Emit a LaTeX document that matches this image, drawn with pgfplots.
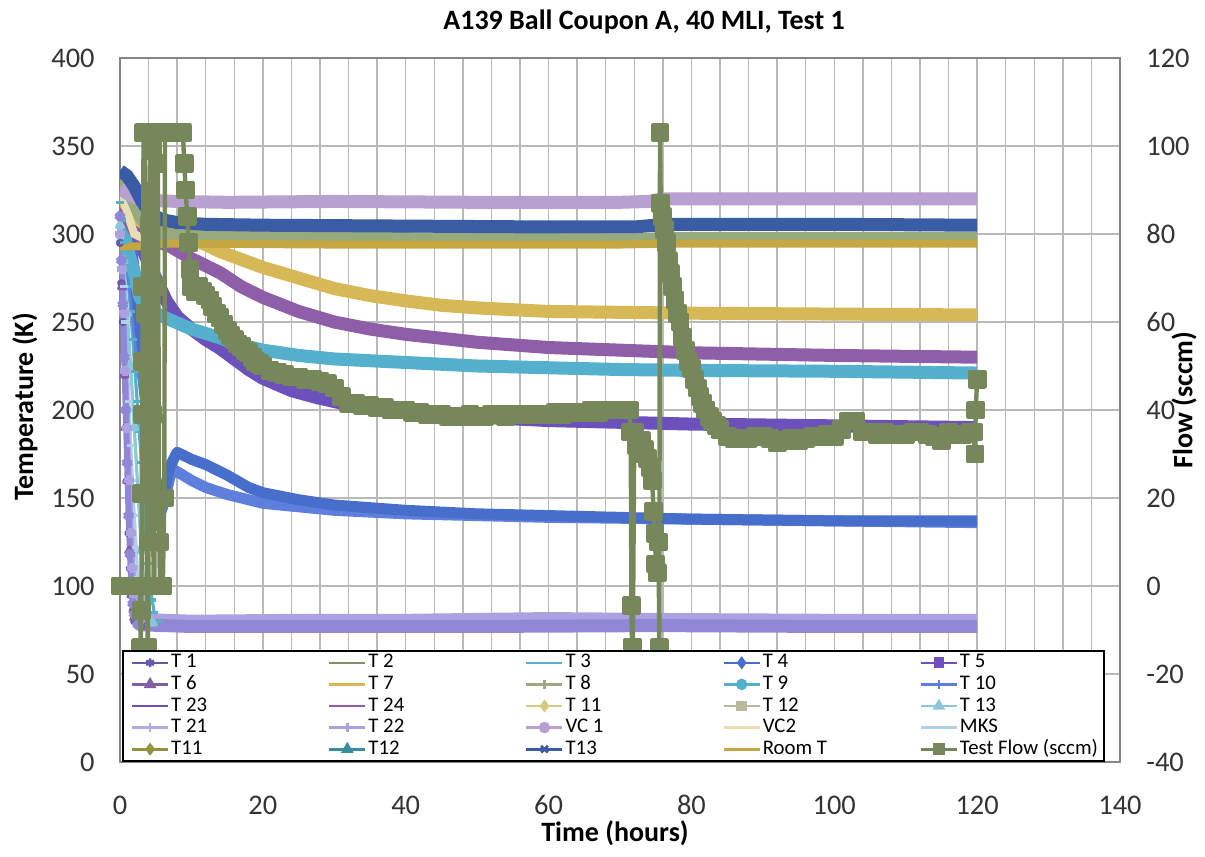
\documentclass[border=0pt]{standalone}
\usepackage{pgfplots}
\pgfplotsset{compat=1.18}
\usepackage{fontspec}
\setmainfont{Carlito}

% series colours
\definecolor{cTone}{RGB}{100,90,170}
\definecolor{cTtwo}{RGB}{150,170,126}
\definecolor{cTthree}{RGB}{90,175,200}
\definecolor{cTfour}{RGB}{72,110,204}
\definecolor{cTfive}{RGB}{110,80,190}
\definecolor{cTsix}{RGB}{130,95,165}
\definecolor{cTseven}{RGB}{214,184,86}
\definecolor{cTeight}{RGB}{160,165,130}
\definecolor{cTnine}{RGB}{84,176,204}
\definecolor{cTten}{RGB}{94,128,220}
\definecolor{cTtwentythree}{RGB}{108,80,188}
\definecolor{cTtwentyfour}{RGB}{142,94,168}
\definecolor{cTeleven}{RGB}{215,200,130}
\definecolor{cTtwelve}{RGB}{185,185,160}
\definecolor{cTthirteen}{RGB}{140,198,220}
\definecolor{cTtwentyone}{RGB}{144,136,214}
\definecolor{cTtwentytwo}{RGB}{172,162,226}
\definecolor{cVCone}{RGB}{184,160,208}
\definecolor{cVCtwo}{RGB}{232,222,180}
\definecolor{cMKS}{RGB}{176,208,232}
\definecolor{cTelevenB}{RGB}{150,145,60}
\definecolor{cTtwelveB}{RGB}{60,140,160}
\definecolor{cTthirteenB}{RGB}{58,92,164}
\definecolor{cRoom}{RGB}{196,166,66}
\definecolor{cFlow}{RGB}{118,136,90}
\definecolor{cGrid}{RGB}{185,185,185}
\definecolor{cAxis}{RGB}{134,134,134}

% legend text boxes: four wide columns and a narrower last one
\newcommand{\lgA}[1]{\makebox[77.5bp][l]{#1}}
\newcommand{\lgB}[1]{\makebox[67bp][l]{#1}}

\pgfplotsset{
  every axis/.append style={
    width=500bp, height=352bp, scale only axis,
    at={(0,0)}, anchor=south west,
    xmin=0, xmax=140,
    /pgf/number format/assume math mode=true,
    tick label style={font=\fontsize{14.2bp}{16bp}\selectfont, text=black!80},
    major tick length=0pt, minor tick length=0pt,
    axis line style={draw=cAxis, line width=0.8bp},
  },
  thick band/.style={line width=6.5bp, no marks, line join=round},
  mid band/.style={line width=5.5bp, no marks, line join=round},
  hatch/.style={line width=1.6bp, mark size=2bp, line join=round},
}

\begin{document}
\begin{tikzpicture}
\path[use as bounding box] (-60bp,-47.5bp) rectangle (542.5bp,381bp);

% temperature axis
\begin{axis}[
  ymin=0, ymax=400,
  xtick={0,20,...,140}, ytick={0,50,...,400},
  minor x tick num=4,
  xmajorgrids, xminorgrids, ymajorgrids,
  major grid style={draw=cGrid, line width=0.7bp},
  minor grid style={draw=cGrid, line width=0.7bp},
  xticklabel style={anchor=center, yshift=-21.5bp},
  yticklabel style={anchor=east, inner sep=0pt, xshift=-12.5bp},
  clip=true,
]
% early fast-dropping sensors (they settle under the cold-shield band)
\addplot[hatch, color=cTone, mark=asterisk, forget plot] coordinates {
 (0,295)(0.2,272)(0.4,250)(0.6,220)(0.8,190)(1.0,160)(1.2,130)(1.4,110)(1.6,95)(1.8,86)(2,80)(3,77)};
\addplot[hatch, color=cTsix, mark=triangle*, forget plot] coordinates {
 (0,300)(0.3,270)(0.6,220)(0.8,190)(1.0,160)(1.3,120)(1.6,95)(2,82)(3,78)};
\addplot[hatch, color=cTthree, mark=-, forget plot] coordinates {
 (0,318)(0.3,308)(0.6,295)(0.9,283)(1.2,270)(1.5,256)(1.8,240)(2.1,222)(2.4,205)(2.7,188)(3.0,170)(3.3,150)(3.6,130)(3.9,113)(4.2,100)(4.5,92)(4.8,85)(5.4,80)};
\addplot[hatch, color=cMKS, mark=-, forget plot] coordinates {
 (0,298)(0.25,285)(0.5,270)(0.75,250)(1,230)(1.25,205)(1.5,180)(1.75,160)(2,140)(2.25,122)(2.5,105)(2.75,94)(3,85)(3.5,81)(4,79)};
\addplot[hatch, color=cTthirteen, mark=triangle*, forget plot] coordinates {
 (0,305)(0.5,285)(1,255)(1.5,225)(2,190)(2.5,155)(3,120)(3.5,92)(4,82)(4.6,79)};
\addplot[line width=3bp, color=cTtwentytwo, mark=+, mark size=2.5bp, forget plot] coordinates {
 (0,300)(0.25,280)(0.5,255)(0.75,222)(1,190)(1.25,160)(1.5,130)(1.75,110)(2,95)(2.5,83)(3,81)};
\addplot[line width=3bp, color=cTtwentyone, mark=x, mark size=2.5bp, forget plot] coordinates {
 (0,310)(0.2,285)(0.4,260)(0.6,230)(0.8,200)(1.0,170)(1.2,140)(1.4,118)(1.6,100)(1.8,90)(2,84)(2.5,78)};
% cold shield sensors
\addplot[thick band, color=cTtwentytwo, forget plot] coordinates {
 (2.5,83)(3,81)(10,80)(25,80.5)(40,80.5)(60,81.5)(75,81)(100,80.5)(120,80.5)};
\addplot[thick band, color=cTtwentyone, forget plot] coordinates {
 (2.5,78)(10,77)(30,77)(50,77)(75,77.5)(100,77)(120,77)};
% coupon sensors
\addplot[mid band, color=cTten, forget plot] coordinates {
 (0,325)(1,300)(2,265)(3,225)(4,190)(4.5,170)(5,150)(5.5,140)(6,145)(7,162)(7.5,166)(8,165)(10,160)(12,156)(15,152)(20,147)(25,145)(30,143)(40,141)(60,139)(80,138)(100,137)(120,136)};
\addplot[mid band, color=cTfour, forget plot] coordinates {
 (0,330)(1,310)(2,280)(3,240)(4,205)(4.5,180)(5,157)(5.5,143)(6,150)(7,168)(8,176)(9,174)(10,172)(12,169)(15,163)(18,156)(20,153)(25,149)(30,146)(40,143)(50,141)(60,140)(70,139)(80,138)(100,137)(120,137)};
\addplot[thick band, color=cTtwentythree, forget plot] coordinates {
 (0,334)(1,325)(2,308)(2.4,302)(3.5,288)(5,275)(6.5,262)(8,253)(10,246)(12,240)(14,235)(16,229)(18,223)(20,218)(24,211)(27.6,207)(32,203)(40,199)(50,196)(60,194)(70,193)(80,192)(100,191)(120,190)};
\addplot[thick band, color=cTnine, forget plot] coordinates {
 (0,310)(0.5,302)(1,292)(2,278)(2.8,264)(3.5,260)(5,255)(6.6,252)(10,246)(14,241)(16,238)(20,234)(25,231)(30,229)(40,227)(50,225)(60,224)(70,223)(80,222.5)(100,222)(120,221)};
\addplot[thick band, color=cTtwentyfour, forget plot] coordinates {
 (0,316)(1,310)(2,302)(3,298)(5,296)(7,293)(10,286)(12,282)(14,278)(17,270)(20,264)(25,256)(30,250)(35,246)(40,243)(50,238.5)(60,235.5)(70,234)(80,232.5)(100,231)(120,230)};
\addplot[thick band, color=cTseven, forget plot] coordinates {
 (0,321)(1,316)(2,311)(3,307)(5,303)(8,299)(10,297)(12,294)(14,290)(16,287)(20,281)(25,275)(30,269)(35,265)(40,262)(45,259.5)(50,258)(60,256)(70,255.5)(80,255)(100,254.5)(120,254)};
\addplot[line width=4bp, color=cVCtwo, no marks, forget plot] coordinates {
 (0,325)(0.5,319)(1,313)(1.5,306)(2,300)(3,298)(120,298)};
\addplot[thick band, color=cTtwo, forget plot] coordinates {
 (0,332)(1,327)(2,318)(3,309)(4,303)(6,300)(8,299)(20,298)(50,297)(72,296.5)(76,297.5)(120,297.5)};
\addplot[thick band, color=cVCone, forget plot] coordinates {
 (0,326)(1,323)(2,321)(3,320)(5,319)(8,318.5)(15,318)(30,318.5)(50,318)(70,318)(74,318.5)(76,320)(90,320)(110,320)(120,320)};
\addplot[thick band, color=cTthirteenB, forget plot] coordinates {
 (0,336)(1,333)(2,327)(3,319)(4,313)(5,310)(6,308)(8,306.5)(12,305.5)(20,305)(40,304.5)(60,304)(72,304)(75,305)(77,305.5)(100,305.5)(120,305)};
\addplot[line width=4bp, color=cRoom, no marks, forget plot] coordinates {
 (0,293)(3,293)(6,294.5)(10,294.5)(30,294)(70,294)(76,294.5)(120,294.5)};
\end{axis}

% flow axis
\begin{axis}[
  ymin=-40, ymax=120,
  ytick={-40,-20,...,120},
  axis x line=none, axis y line*=right,
  yticklabel style={anchor=west, inner sep=0pt, xshift=13bp},
  legend columns=5,
  legend cell align=left,
  legend image code/.code={\draw[mark repeat=2,mark phase=2] plot coordinates {(0bp,0bp) (9bp,0bp) (18bp,0bp)};},
  legend style={
    at={(0.002,0)}, anchor=south west,
    draw=black, line width=0.8bp, fill=white,
    inner xsep=4bp, inner ysep=0.6bp,
    font=\fontsize{10.4bp}{11bp}\selectfont,
    nodes={inner sep=0.9bp, text height=7bp, text depth=2bp},
    row sep=0pt,
  },
]
\addplot[line width=2.2bp, color=cFlow, mark=square*, mark size=3.6bp, line join=round, forget plot] coordinates {
 (0,0)(0.5,0)(1,0)(1.5,0)(2,0)(2.5,0)(2.8,0)(2.9,-14)(3.0,-5.5)(3.05,21)(3.1,39)(3.15,51)(3.2,68)(3.3,103)(3.5,103)(3.6,62)(3.7,39)(3.75,0)(3.9,-14)(4.0,10)(4.1,82)(4.3,103)(4.5,99)(4.6,39)(4.7,0)(4.8,0)(5.0,68)(5.1,103)(5.3,96)(5.5,10)(5.6,0)(5.8,0)(6.0,0)(6.2,20)(6.3,103)
 (6.8,103)(7.3,103)(7.8,103)(8.3,103)(8.8,103)(9.0,96)(9.2,90)(9.4,84)(9.6,78)(9.8,72)(10,68)(10.5,67)(11,68)(11.5,67)(12,66)(12.6,65)(13,63.5)(13.5,62)(14,61)(14.5,59.5)(15,58)(15.5,57)(16,56)(16.5,55)(17,54.5)(17.5,53.5)(18,53)(18.5,52)(19,51)(19.5,50.5)(20,50)
 (21,49)(22,48.5)(23,48)(24,47.5)(25,47.5)(26,47)(27,47)(28,46.5)(29,46)(30,45)(31,43)(32,41.5)(33,41.5)(34,41)(35,41)(36,40.5)(37,40.5)(38,40)(39,40)(40,40)
 (41,39.5)(42,39.5)(43,39)(44,39)(45,39)(46,38.5)(47,38.5)(48,38.5)(49,39)(50,38.5)(51,38.5)(52,39)(53,39)(54,38.5)(55,39)(56,39)(57,39)(58,39)(59,39)(60,39)
 (61,39.5)(62,39)(63,39.5)(64,39.5)(65,39.5)(66,40)(67,39.5)(68,40)(69,40)(70,40)(71,40)(71.3,40)
 (71.5,35)(71.6,-4.5)(71.7,-14)(71.8,-14)(72.0,35)(72.3,32)(72.6,30)(73,33)(73.4,31)(73.8,29)(74.2,27)(74.5,24)(74.7,17)(74.9,12)(75,5)(75.2,3)(75.4,10)(75.5,-14)(75.6,103)(75.7,87)
 (75.9,84)(76.2,81)(76.5,78)(76.8,74)(77.1,71)(77.4,68)(77.7,65)(78,62)(78.4,60)(78.8,56.5)(79.2,53.5)(79.6,51)(80,49.5)(80.4,47)(80.8,45)(81.2,43)(81.6,41.5)(82,40)(82.5,38.5)(83,37.5)(83.5,36.5)(84,35.5)(85,34)
 (86,33.5)(87,33.5)(88,33.5)(89,34)(90,34)(91,33.5)(92,32.5)(93,33)(94,33.5)(95,33)(96,33.5)(97,34)(98,34)(99,34.5)(100,34)
 (101,35.5)(102,37.5)(103,37.5)(104,35)(105,35)(106,34.5)(107,35)(108,34.5)(109,34.5)(110,34.5)(111,35)(112,35)(113,34.5)(114,34)(115,33)(116,35)(117,34.5)(118,34.5)(119,35)(119.5,35)(119.7,30)(119.8,40)(120,47)};

\addlegendimage{color=cTone, line width=1.3bp, mark=asterisk, mark size=2.2bp}
\addlegendentry{\lgA{T 1}}
\addlegendimage{color=cTtwo!85!black, line width=1.3bp}
\addlegendentry{\lgA{T 2}}
\addlegendimage{color=cTthree, line width=1.3bp}
\addlegendentry{\lgA{T 3}}
\addlegendimage{color=cTfour, line width=1.3bp, mark=diamond*, mark size=2.2bp}
\addlegendentry{\lgA{T 4}}
\addlegendimage{color=cTfive, line width=1.3bp, mark=square*, mark size=2bp}
\addlegendentry{\lgB{T 5}}
\addlegendimage{color=cTsix, line width=1.3bp, mark=triangle*, mark size=2.4bp}
\addlegendentry{\lgA{T 6}}
\addlegendimage{color=cTseven, line width=1.3bp}
\addlegendentry{\lgA{T 7}}
\addlegendimage{color=cTeight, line width=1.3bp, mark=+, mark size=2.4bp}
\addlegendentry{\lgA{T 8}}
\addlegendimage{color=cTnine, line width=1.3bp, mark=*, mark size=2.2bp}
\addlegendentry{\lgA{T 9}}
\addlegendimage{color=cTten, line width=1.3bp, mark=|, mark size=2.4bp}
\addlegendentry{\lgB{T 10}}
\addlegendimage{color=cTtwentythree, line width=1.3bp}
\addlegendentry{\lgA{T 23}}
\addlegendimage{color=cTtwentyfour, line width=1.3bp}
\addlegendentry{\lgA{T 24}}
\addlegendimage{color=cTeleven, line width=1.3bp, mark=diamond*, mark size=2.2bp}
\addlegendentry{\lgA{T 11}}
\addlegendimage{color=cTtwelve, line width=1.3bp, mark=square*, mark size=2bp}
\addlegendentry{\lgA{T 12}}
\addlegendimage{color=cTthirteen, line width=1.3bp, mark=triangle*, mark size=2.4bp}
\addlegendentry{\lgB{T 13}}
\addlegendimage{color=cTtwentyone!70!white, line width=1.3bp, mark=+, mark size=2.4bp}
\addlegendentry{\lgA{T 21}}
\addlegendimage{color=cTtwentytwo, line width=1.3bp, mark=+, mark size=2.4bp}
\addlegendentry{\lgA{T 22}}
\addlegendimage{color=cVCone, line width=1.3bp, mark=*, mark size=2.2bp}
\addlegendentry{\lgA{VC 1}}
\addlegendimage{color=cVCtwo, line width=1.3bp}
\addlegendentry{\lgA{VC2}}
\addlegendimage{color=cMKS, line width=1.3bp}
\addlegendentry{\lgB{MKS}}
\addlegendimage{color=cTelevenB, line width=1.3bp, mark=diamond*, mark size=2.2bp}
\addlegendentry{\lgA{T11}}
\addlegendimage{color=cTtwelveB, line width=1.3bp, mark=triangle*, mark size=2.4bp}
\addlegendentry{\lgA{T12}}
\addlegendimage{color=cTthirteenB, line width=1.3bp, mark=x, mark size=2.4bp}
\addlegendentry{\lgA{T13}}
\addlegendimage{color=cRoom, line width=1.3bp}
\addlegendentry{\lgA{Room T}}
\addlegendimage{color=cFlow, line width=1.3bp, mark=square*, mark size=2.2bp}
\addlegendentry{\lgB{Test Flow (sccm)}}
\end{axis}

% titles
\node[font=\bfseries\fontsize{14bp}{16bp}\selectfont] at (262bp,370bp) {A139 Ball Coupon A, 40 MLI, Test 1};
\node[font=\bfseries\fontsize{14bp}{16bp}\selectfont, rotate=90] at (-47.5bp,177.5bp) {Temperature (K)};
\node[font=\bfseries\fontsize{14bp}{16bp}\selectfont, rotate=90] at (532bp,181bp) {Flow (sccm)};
\node[font=\bfseries\fontsize{14bp}{16bp}\selectfont] at (247.5bp,-35.5bp) {Time (hours)};
\end{tikzpicture}
\end{document}
